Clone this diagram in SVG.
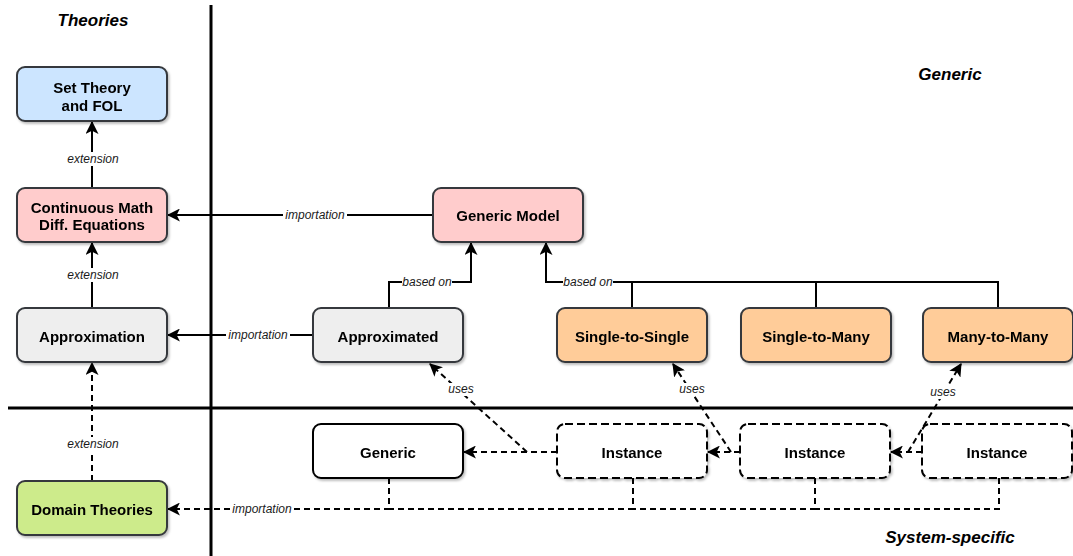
<svg xmlns="http://www.w3.org/2000/svg" width="1073" height="556" viewBox="0 0 1073 556">
<defs>
<style>
.box{stroke:#36393d;stroke-width:2}
.dbox{fill:#ffffff;stroke:#000;stroke-width:2;stroke-dasharray:8 4}
.t{font-family:"Liberation Sans",Arial,sans-serif;font-size:15px;font-weight:bold;fill:#000;text-anchor:middle}
.title{font-family:"Liberation Sans",Arial,sans-serif;font-size:17px;font-weight:bold;font-style:italic;fill:#000;text-anchor:middle}
.lbl{font-family:"Liberation Sans",Arial,sans-serif;font-size:12px;font-style:italic;fill:#1a1a1a;text-anchor:middle}
.e{fill:none;stroke:#000;stroke-width:2}
.de{fill:none;stroke:#000;stroke-width:2;stroke-dasharray:6 4}
.sep{stroke:#000;stroke-width:3}
.bg{fill:#fff}
</style>
<filter id="sh" x="-10%" y="-10%" width="130%" height="140%">
<feDropShadow dx="1.5" dy="2" stdDeviation="1.2" flood-color="#000" flood-opacity="0.25"/>
</filter>
<marker id="arr" viewBox="0 0 12 12" refX="11" refY="6" markerWidth="13" markerHeight="13" markerUnits="userSpaceOnUse" orient="auto">
<path d="M0,0 L12,6 L0,12 L3,6 z" fill="#000"/>
</marker>
</defs>
<rect width="1073" height="556" fill="#fff"/>

<g id="separators">
<line class="sep" x1="211" y1="5" x2="211" y2="556"/>
<line class="sep" x1="8" y1="408" x2="1073" y2="408"/>
</g>

<g id="titles">
<text class="title" x="93" y="26">Theories</text>
<text class="title" x="950" y="80">Generic</text>
<text class="title" x="950" y="543">System-specific</text>
</g>

<g id="connectors">
<line class="e" x1="92" y1="188" x2="92" y2="122" marker-end="url(#arr)"/>
<rect class="bg" x="64" y="152" width="56" height="14"/>
<text class="lbl" x="93" y="163">extension</text>

<line class="e" x1="92" y1="308" x2="92" y2="243" marker-end="url(#arr)"/>
<rect class="bg" x="64" y="268" width="56" height="14"/>
<text class="lbl" x="93" y="279">extension</text>

<line class="de" x1="92" y1="481" x2="92" y2="363" marker-end="url(#arr)"/>
<rect class="bg" x="64" y="437" width="56" height="14"/>
<text class="lbl" x="93" y="448">extension</text>

<line class="e" x1="433" y1="215" x2="168" y2="215" marker-end="url(#arr)"/>
<rect class="bg" x="283" y="208" width="64" height="14"/>
<text class="lbl" x="315" y="219">importation</text>

<line class="e" x1="313" y1="335" x2="168" y2="335" marker-end="url(#arr)"/>
<rect class="bg" x="226" y="328" width="64" height="14"/>
<text class="lbl" x="258" y="339">importation</text>

<path class="e" d="M389,308 V282 H471 V243" marker-end="url(#arr)"/>
<rect class="bg" x="402" y="275" width="50" height="14"/>
<text class="lbl" x="427" y="286">based on</text>

<path class="e" d="M632,308 V282 H546 V243" marker-end="url(#arr)"/>
<path class="e" d="M816,308 V282 H632"/>
<path class="e" d="M998,308 V282 H816"/>
<rect class="bg" x="563" y="275" width="50" height="14"/>
<text class="lbl" x="588" y="286">based on</text>

<line class="de" x1="557" y1="452" x2="464" y2="452" marker-end="url(#arr)"/>
<line class="de" x1="527" y1="452" x2="430" y2="364" marker-end="url(#arr)"/>
<rect class="bg" x="448" y="383" width="27" height="13"/>
<text class="lbl" x="461" y="393">uses</text>

<line class="de" x1="740" y1="452" x2="708" y2="452" marker-end="url(#arr)"/>
<line class="de" x1="731" y1="452" x2="673" y2="364" marker-end="url(#arr)"/>
<rect class="bg" x="679" y="383" width="27" height="13"/>
<text class="lbl" x="692" y="393">uses</text>

<line class="de" x1="922" y1="452" x2="891" y2="452" marker-end="url(#arr)"/>
<line class="de" x1="908" y1="452" x2="961" y2="364" marker-end="url(#arr)"/>
<rect class="bg" x="930" y="386" width="27" height="13"/>
<text class="lbl" x="943" y="396">uses</text>

<path class="de" d="M389,478 V509 H168" marker-end="url(#arr)"/>
<path class="de" d="M633,478 V509 H389"/>
<path class="de" d="M815,478 V509 H633"/>
<path class="de" d="M999,478 V509 H815"/>
<rect class="bg" x="230" y="502" width="64" height="14"/>
<text class="lbl" x="262" y="513">importation</text>
</g>

<g id="set-theory" filter="url(#sh)">
<rect class="box" x="17" y="67" width="150" height="54" rx="8" fill="#cce5ff"/>
<text class="t" x="92" y="93">Set Theory</text>
<text class="t" x="92" y="111">and FOL</text>
</g>
<g id="continuous-math" filter="url(#sh)">
<rect class="box" x="17" y="188" width="150" height="54" rx="8" fill="#ffcccc"/>
<text class="t" x="92" y="213">Continuous Math</text>
<text class="t" x="92" y="230">Diff. Equations</text>
</g>
<g id="approximation" filter="url(#sh)">
<rect class="box" x="17" y="308" width="150" height="54" rx="8" fill="#eeeeee"/>
<text class="t" x="92" y="342">Approximation</text>
</g>
<g id="domain-theories" filter="url(#sh)">
<rect class="box" x="17" y="481" width="150" height="54" rx="8" fill="#cdeb8b"/>
<text class="t" x="92" y="515">Domain Theories</text>
</g>
<g id="generic-model" filter="url(#sh)">
<rect class="box" x="433" y="188" width="150" height="54" rx="8" fill="#ffcccc"/>
<text class="t" x="508" y="221">Generic Model</text>
</g>
<g id="approximated" filter="url(#sh)">
<rect class="box" x="313" y="308" width="150" height="54" rx="8" fill="#eeeeee"/>
<text class="t" x="388" y="342">Approximated</text>
</g>
<g id="single-to-single" filter="url(#sh)">
<rect class="box" x="557" y="308" width="150" height="54" rx="8" fill="#ffcc99"/>
<text class="t" x="632" y="342">Single-to-Single</text>
</g>
<g id="single-to-many" filter="url(#sh)">
<rect class="box" x="741" y="308" width="150" height="54" rx="8" fill="#ffcc99"/>
<text class="t" x="816" y="342">Single-to-Many</text>
</g>
<g id="many-to-many" filter="url(#sh)">
<rect class="box" x="923" y="308" width="150" height="54" rx="8" fill="#ffcc99"/>
<text class="t" x="998" y="342">Many-to-Many</text>
</g>
<g id="generic" filter="url(#sh)">
<rect x="313" y="424" width="150" height="54" rx="8" fill="#fff" stroke="#000" stroke-width="2"/>
<text class="t" x="388" y="458">Generic</text>
</g>
<g id="instance-1" filter="url(#sh)">
<rect class="dbox" x="557" y="424" width="150" height="54" rx="8"/>
<text class="t" x="632" y="458">Instance</text>
</g>
<g id="instance-2" filter="url(#sh)">
<rect class="dbox" x="740" y="424" width="150" height="54" rx="8"/>
<text class="t" x="815" y="458">Instance</text>
</g>
<g id="instance-3" filter="url(#sh)">
<rect class="dbox" x="922" y="424" width="150" height="54" rx="8"/>
<text class="t" x="997" y="458">Instance</text>
</g>
</svg>
